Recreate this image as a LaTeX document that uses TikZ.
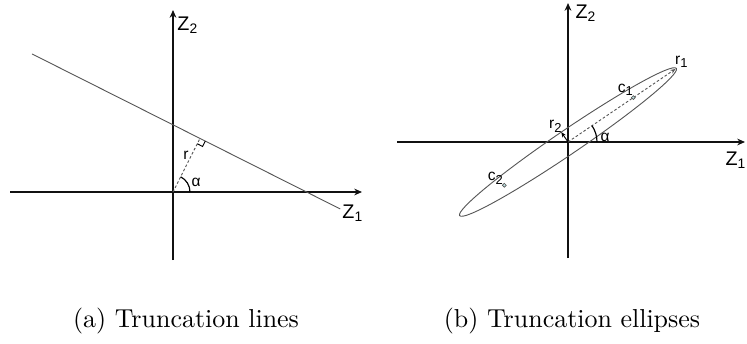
\documentclass[tikz,border=0pt]{standalone}
\usepackage{xcolor}
\usepackage{fontspec}
\setsansfont{Liberation Sans}
\usepackage{tikz}
\usetikzlibrary{arrows.meta, positioning, calc}
\definecolor{axis}{HTML}{111111}
\definecolor{trace}{HTML}{555555}
\definecolor{centre}{HTML}{BFE3E3}
\tikzset{
  px/.style={x=0.3854pt, y=0.3854pt},
  axisline/.style={-{Stealth[length=3pt, width=2.6pt]}, line width=0.7pt, color=axis},
  truncline/.style={line width=0.35pt, color=trace},
  radiusline/.style={dash pattern=on 1pt off 0.8pt, line width=0.35pt, color=trace},
  angarc/.style={line width=0.45pt, color=black},
  axlabel/.style={font=\fontsize{7.6}{8}\selectfont\sffamily, inner sep=0pt},
  smlabel/.style={font=\fontsize{6}{7}\selectfont\sffamily, inner sep=0pt},
  caption/.style={font=\fontsize{10}{12}\selectfont\rmfamily, anchor=base, inner sep=0pt},
  centredot/.style={circle, draw=trace, fill=centre, line width=0.25pt, inner sep=0pt, minimum size=1.5pt},
}

\begin{document}
\begin{tikzpicture}[px]

  \useasboundingbox (0,0) rectangle (747,343);

  % (a) truncation lines
  \coordinate (o1) at (173,151);
  \coordinate (x1w) at (10,151);
  \coordinate (x1e) at (362,151);
  \coordinate (y1s) at (173,83);
  \coordinate (y1n) at (173,333);
  \coordinate (foot) at ($(o1)+(63.3:60)$);
  \coordinate (lineW) at ($(foot)+(153.3:188)$);
  \coordinate (lineE) at ($(foot)+(-26.7:157)$);

  \draw[axisline] (x1w) -- (x1e);
  \draw[axisline] (y1s) -- (y1n);
  \draw[truncline] (lineW) -- (lineE);
  \draw[radiusline] (o1) -- (foot);
  \draw[truncline, color=black] ($(foot)+(-26.7:6)$) -- ++(243.3:6) -- ($(foot)+(243.3:6)$);
  \draw[angarc] ($(o1)+(17,0)$) arc[start angle=0, end angle=63.3, radius=17];

  \node[axlabel] (z2a) at (188,318) {Z\textsubscript{2}};
  \node[axlabel] (z1a) at (353,130) {Z\textsubscript{1}};
  \node[smlabel] (alphaA) at (196,161) {α};
  \node[smlabel] (rA) at (186,188) {r};

  % (b) truncation ellipses
  \coordinate (o2) at (568,201);
  \coordinate (x2w) at (397,201);
  \coordinate (x2e) at (745,201);
  \coordinate (y2s) at (568,85);
  \coordinate (y2n) at (568,340);
  \coordinate (tip1) at ($(o2)+(34.2:130)$);
  \coordinate (tip2) at ($(o2)+(124.2:12)$);

  \draw[axisline] (x2w) -- (x2e);
  \draw[axisline] (y2s) -- (y2n);
  \draw[truncline, rotate around={34.2:(o2)}] (o2) ellipse [x radius=131, y radius=12];
  \draw[radiusline, -{Stealth[length=2pt, width=1.6pt]}] (o2) -- (tip1);
  \draw[truncline, color=black, -{Stealth[length=2pt, width=1.6pt]}] (o2) -- (tip2);
  \draw[angarc] ($(o2)+(29,0)$) arc[start angle=0, end angle=34.2, radius=29];

  \node[centredot] (c1) at ($(o2)+(34.2:79)$) {};
  \node[centredot] (c2) at ($(o2)+(214.2:77)$) {};

  \node[axlabel] (z2b) at (586,330) {Z\textsubscript{2}};
  \node[axlabel] (z1b) at (736,183) {Z\textsubscript{1}};
  \node[smlabel] (alphaB) at (605,206) {α};
  \node[smlabel] (r1) at (682,281) {r\textsubscript{1}};
  \node[smlabel] (r2) at (556,217) {r\textsubscript{2}};
  \node[smlabel] (c1lab) at (626,253) {c\textsubscript{1}};
  \node[smlabel] (c2lab) at (496,165) {c\textsubscript{2}};

  % captions
  \node[caption] (capA) at (186,16) {(a) Truncation lines};
  \node[caption] (capB) at (572,16) {(b) Truncation ellipses};

\end{tikzpicture}
\end{document}
